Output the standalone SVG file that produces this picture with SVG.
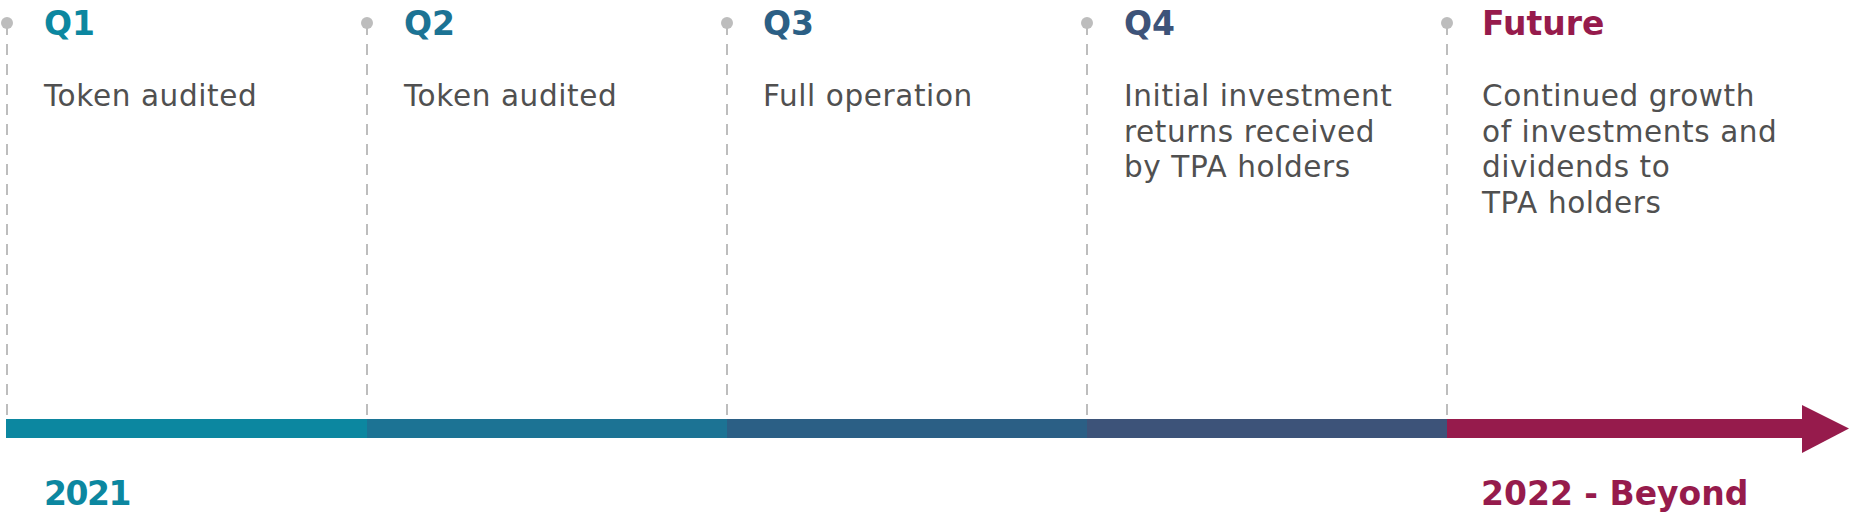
<svg xmlns="http://www.w3.org/2000/svg" width="1860" height="516" viewBox="0 0 1860 516">
<style>
.guide{stroke:#bdbdbd;stroke-width:2;stroke-dasharray:11 9;fill:none}
.dot{fill:#bdbdbd}
.head{font-family:"DejaVu Sans","Liberation Sans",sans-serif;font-weight:bold;font-size:33px}
.body{font-family:"DejaVu Sans","Liberation Sans",sans-serif;font-size:29.5px;letter-spacing:0.6px;fill:#505050}
.year{font-family:"DejaVu Sans","Liberation Sans",sans-serif;font-weight:bold;font-size:33px}
</style>
<rect width="1860" height="516" fill="#ffffff"/>
<g id="connectors">
<line class="guide" x1="7" y1="24" x2="7" y2="419"/>
<line class="guide" x1="367" y1="24" x2="367" y2="419"/>
<line class="guide" x1="727" y1="24" x2="727" y2="419"/>
<line class="guide" x1="1087" y1="24" x2="1087" y2="419"/>
<line class="guide" x1="1447" y1="24" x2="1447" y2="419"/>
</g>
<g id="timeline-bar">
<rect x="6" y="419" width="361" height="19" fill="#0c87a0"/>
<rect x="367" y="419" width="360" height="19" fill="#1c7394"/>
<rect x="727" y="419" width="360" height="19" fill="#2b5f85"/>
<rect x="1087" y="419" width="360" height="19" fill="#3d5379"/>
<rect x="1447" y="419" width="356" height="19" fill="#961b4c"/>
<polygon points="1802,405 1849,428.5 1802,453" fill="#961b4c"/>
</g>
<g id="q1">
<circle class="dot" cx="7" cy="23" r="6"/>
<text class="head" x="44" y="35" fill="#0c87a0">Q1</text>
<text class="body" x="44" y="106">Token audited</text>
</g>
<g id="q2">
<circle class="dot" cx="367" cy="23" r="6"/>
<text class="head" x="404" y="35" fill="#1c7394">Q2</text>
<text class="body" x="404" y="106">Token audited</text>
</g>
<g id="q3">
<circle class="dot" cx="727" cy="23" r="6"/>
<text class="head" x="763" y="35" fill="#2b5f85">Q3</text>
<text class="body" x="763" y="106">Full operation</text>
</g>
<g id="q4">
<circle class="dot" cx="1087" cy="23" r="6"/>
<text class="head" x="1124" y="35" fill="#3d5379">Q4</text>
<text class="body" x="1124" y="106">Initial investment</text>
<text class="body" x="1124" y="142">returns received</text>
<text class="body" x="1124" y="177">by TPA holders</text>
</g>
<g id="future">
<circle class="dot" cx="1447" cy="23" r="6"/>
<text class="head" x="1482" y="35" fill="#961b4c">Future</text>
<text class="body" x="1482" y="106">Continued growth</text>
<text class="body" x="1482" y="142">of investments and</text>
<text class="body" x="1482" y="177">dividends to</text>
<text class="body" x="1482" y="213">TPA holders</text>
</g>
<g id="year-2021">
<text class="year" x="44" y="505" fill="#0c87a0" letter-spacing="-1.5">2021</text>
</g>
<g id="year-2022">
<text class="year" x="1481" y="505" fill="#961b4c">2022 - Beyond</text>
</g>
</svg>
